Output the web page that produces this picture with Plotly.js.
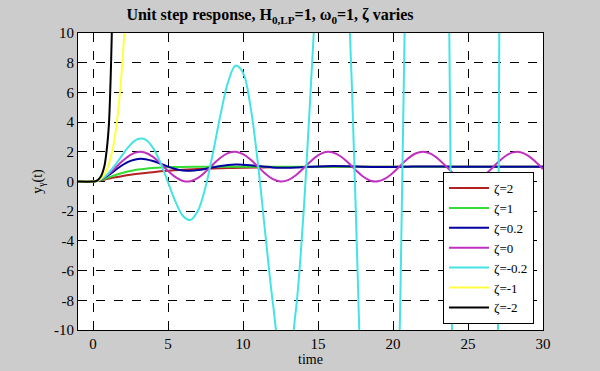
<!DOCTYPE html>
<html>
<head>
<meta charset="utf-8">
<script src="https://cdn.plot.ly/plotly-3.0.1.min.js"></script>
<style>html,body{margin:0;padding:0;background:#cccccc;}#chart{width:600px;height:371px;}</style>
</head>
<body>
<div id="chart"></div>
<script>
// ---- data ----
var legendLabels = ["ζ=2", "ζ=1", "ζ=0.2", "ζ=0", "ζ=-0.2", "ζ=-1", "ζ=-2"];

var t_z2 = [-1,0,0.5,1,1.5,2,2.5,3,3.5,4,5,6,7,8,9,10,12,14,16,18,20,25,30];
var y_z2 = [0,0,0.07,0.178,0.28,0.37,0.449,0.518,0.578,0.631,0.718,0.784,0.835,0.874,0.903,0.926,0.957,0.975,0.985,0.991,0.995,0.999,1.0];

var t_z1 = [-1,0,0.5,1,1.5,2,2.5,3,3.5,4,4.5,5,5.5,6,7,8,9,10,12,15,20,25,30];
var y_z1 = [0,0,0.09,0.264,0.442,0.594,0.713,0.801,0.864,0.908,0.939,0.96,0.973,0.983,0.993,0.997,0.999,1,1,1,1,1,1];

var t_z02 = [-1,0,0.5,1,1.5,2,2.5,3,3.5,4,4.5,5,5.5,6,6.5,7,7.5,8,8.5,9,9.5,10,10.5,11,11.5,12,12.5,13,13.5,14,14.5,15,16,17,18,19,20,21,22,24,26,28,30];
var y_z02 = [0,0,0.115,0.405,0.775,1.128,1.388,1.515,1.505,1.384,1.201,1.005,0.845,0.747,0.724,0.766,0.852,0.956,1.050,1.117,1.145,1.136,1.099,1.046,0.993,0.951,0.927,0.924,0.939,0.964,0.993,1.018,1.040,1.025,0.996,0.979,0.984,0.999,1.010,1.0,1.0,1.0,1.0];

var t_z0 = [-1,0,0.5,1,1.5,2,2.5,3,3.5,4,4.5,5,5.5,6,6.5,7,7.5,8,8.5,9,9.5,10,10.5,11,11.5,12,12.5,13,13.5,14,14.5,15,15.5,16,16.5,17,17.5,18,18.5,19,19.5,20,20.5,21,21.5,22,22.5,23,23.5,24,24.5,25,25.5,26,26.5,27,27.5,28,28.5,29,29.5,30];
var y_z0 = [0,0,0.122,0.460,0.929,1.416,1.801,1.990,1.936,1.654,1.211,0.716,0.291,0.040,0.023,0.246,0.653,1.146,1.602,1.911,1.997,1.839,1.476,0.996,0.517,0.156,0.002,0.093,0.405,0.863,1.355,1.760,1.981,1.958,1.700,1.275,0.781,0.340,0.056,0.011,0.212,0.592,1.080,1.548,1.884,2.000,1.873,1.533,1.062,0.576,0.200,0.009,0.061,0.353,0.798,1.292,1.715,1.963,1.975,1.748,1.338,0.846];

var t_zm02 = [-1,0,0.5,1,1.5,2,2.5,3,3.5,4,4.5,5,5.5,6,6.5,7,7.5,8,8.5,9,9.5,10,10.5,11,11.5,12,12.5,13,13.5,14,14.5,14.75,15,15.5,16,16.5,17,17.5,17.75,18,18.5,19,19.5,20,20.5,21,21.5,22,22.5,23,23.5,24,24.5,25,25.5,26,26.5,27,27.5,28,28.5,29,29.5,30];
var y_zm02 = [0,0,0.131,0.527,1.138,1.848,2.484,2.860,2.814,2.267,1.256,-0.050,-1.359,-2.319,-2.592,-1.952,-0.372,1.934,4.495,6.675,7.800,7.331,5.042,1.151,-3.639,-8.237,-11.35,-11.80,-8.88,-2.654,5.971,10.63,15.13,22.52,25.67,22.86,13.49,-1.33,-9.98,-18.82,-34.8,-44.6,-44.2,-31.5,-7.22,24.77,57.4,81.9,89.9,75.6,37.9,-18.1,-81.4,-136.3,-166.2,-157.4,-103.7,-9.7,107.9,222.9,302.7,318.7,252.1,102.6];

var t_zm1 = [-1,0,0.25,0.5,0.75,1,1.25,1.5,1.75,2,2.25,2.5];
var y_zm1 = [0,0,0.037,0.176,0.47,1.0,1.9,3.3,5.5,8.6,13.2,19.3];

var t_zm2 = [-1,0,0.25,0.5,0.75,0.9,1.0,1.07,1.14,1.2,1.25,1.3,1.4];
var y_zm2 = [0,0,0.05,0.3,1.0,2.0,3.0,4.0,5.8,7.8,9.8,12,17];

var xTickVals = [0,5,10,15,20,25,30];
var xTickText = ["0","5","10","15","20","25","30"];
var yTickVals = [-10,-8,-6,-4,-2,0,2,4,6,8,10];
var yTickText = ["-10","-8","-6","-4","-2","0","2","4","6","8","10"];

// ---- styles ----
var colors = ["#b22222", "#33dd33", "#0000a0", "#c030c0", "#44e4e4", "#ffff40", "#000000"];
var xs = [t_z2, t_z1, t_z02, t_z0, t_zm02, t_zm1, t_zm2];
var ys = [y_z2, y_z1, y_z02, y_z0, y_zm02, y_zm1, y_zm2];

var traces = xs.map(function (x, i) {
  return {
    x: x, y: ys[i], type: "scatter", mode: "lines", name: legendLabels[i],
    line: {color: colors[i], width: 2, shape: "spline", smoothing: 1}
  };
});

var serif = "'Liberation Serif', 'Times New Roman', Times, serif";
var layout = {
  width: 600, height: 371,
  paper_bgcolor: "#cccccc", plot_bgcolor: "#ffffff",
  margin: {l: 78, r: 57, t: 33, b: 41},
  font: {family: serif, size: 14, color: "#000"},
  title: {text: "Unit step response, H<sub>0,LP</sub>=1, ω<sub>0</sub>=1, ζ varies",
          font: {family: serif, size: 16, color: "#000", weight: "bold"},
          x: 0.45, xanchor: "center", y: 0.975, yanchor: "top"},
  xaxis: {range: [-1, 30], tickvals: xTickVals, ticktext: xTickText, ticks: "inside", ticklen: 6, tickcolor: "#000",
          showline: true, linecolor: "#000", linewidth: 1, mirror: true,
          showgrid: true, gridcolor: "#000", griddash: "dash", gridwidth: 1, zeroline: false,
          tickfont: {family: serif, size: 15, color: "#000"},
          title: {text: "time", font: {family: serif, size: 14, color: "#000"}, standoff: 2}},
  yaxis: {range: [-10, 10], tickvals: yTickVals, ticktext: yTickText, ticks: "inside", ticklen: 6, tickcolor: "#000",
          showline: true, linecolor: "#000", linewidth: 1, mirror: true,
          showgrid: true, gridcolor: "#000", griddash: "dash", gridwidth: 1, zeroline: false,
          tickfont: {family: serif, size: 15, color: "#000"},
          title: {text: "y<sub>γ</sub>(t)", font: {family: serif, size: 14, color: "#000"}, standoff: 8}},
  legend: {x: 0.785, y: 0.02, xanchor: "left", yanchor: "bottom",
           bgcolor: "#ffffff", bordercolor: "#000", borderwidth: 1, itemwidth: 40,
           font: {family: serif, size: 13, color: "#000"}, tracegroupgap: 0},
  showlegend: true
};

Plotly.newPlot("chart", traces, layout, {staticPlot: true, displayModeBar: false});
</script>
</body>
</html>
